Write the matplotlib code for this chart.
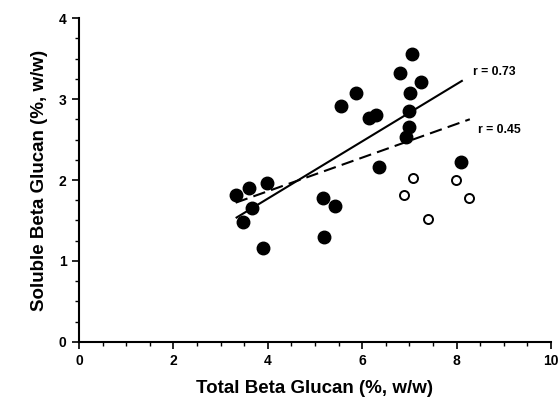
import matplotlib
matplotlib.use("Agg")
from matplotlib import pyplot as plt
from matplotlib.ticker import MultipleLocator

plt.rcParams['font.family'] = ['Liberation Sans', 'DejaVu Sans']
plt.rcParams['font.weight'] = 'bold'

##### Data
# filled circles
filled_x = [7.06, 6.81, 7.24, 5.87, 7.02, 5.55, 6.15, 6.29, 6.99, 7.00, 6.92, 6.36, 8.10,
            5.18, 5.42, 3.32, 3.61, 3.99, 3.67, 3.47, 3.89, 5.19]
filled_y = [3.56, 3.32, 3.21, 3.08, 3.08, 2.91, 2.77, 2.80, 2.85, 2.65, 2.53, 2.16, 2.22,
            1.78, 1.68, 1.82, 1.90, 1.96, 1.65, 1.48, 1.16, 1.30]
# open circles
open_x = [7.08, 7.99, 6.89, 8.26, 7.39]
open_y = [2.02, 2.00, 1.82, 1.78, 1.52]
# regression lines (end points)
fit1_x = [3.32, 8.13]
fit1_y = [1.53, 3.23]
fit2_x = [3.32, 8.28]
fit2_y = [1.72, 2.75]
fit_labels = ['r = 0.73', 'r = 0.45']

##### Plot
fig = plt.figure(figsize=(5.59, 4.04), dpi=100)
ax = fig.add_axes([0.1413, 0.1535, 0.8444, 0.8019])

ax.plot(fit1_x, fit1_y, color='black', lw=1.5, solid_capstyle='butt')
ax.plot(fit2_x, fit2_y, color='black', lw=1.5, dashes=(6, 3))
ax.plot(filled_x, filled_y, 'o', color='black', ms=9, mec='black')
ax.plot(open_x, open_y, 'o', mfc='white', mec='black', ms=6.5, mew=1.4)

ax.text(8.35, 3.33, fit_labels[0], fontsize=8.8, fontweight='bold', va='center')
ax.text(8.45, 2.62, fit_labels[1], fontsize=8.8, fontweight='bold', va='center')

ax.set_xlim(0, 10)
ax.set_ylim(0, 4)
ax.xaxis.set_major_locator(MultipleLocator(2))
ax.xaxis.set_minor_locator(MultipleLocator(0.5))
ax.yaxis.set_major_locator(MultipleLocator(1))
ax.yaxis.set_minor_locator(MultipleLocator(0.25))
ax.spines['top'].set_visible(False)
ax.spines['right'].set_visible(False)
ax.spines['left'].set_linewidth(1.5)
ax.spines['bottom'].set_linewidth(1.5)
ax.tick_params(which='major', length=5, width=1.2, labelsize=10, pad=4)
ax.tick_params(which='minor', length=3, width=1)
for lab in ax.get_xticklabels() + ax.get_yticklabels():
    lab.set_fontweight('bold')

ax.set_xlabel("Total Beta Glucan (%, w/w)", fontsize=13.5, fontweight='bold', labelpad=8)
ax.set_ylabel("Soluble Beta Glucan (%, w/w)", fontsize=13.5, fontweight='bold', labelpad=8)

plt.savefig("out.png", dpi=100)
